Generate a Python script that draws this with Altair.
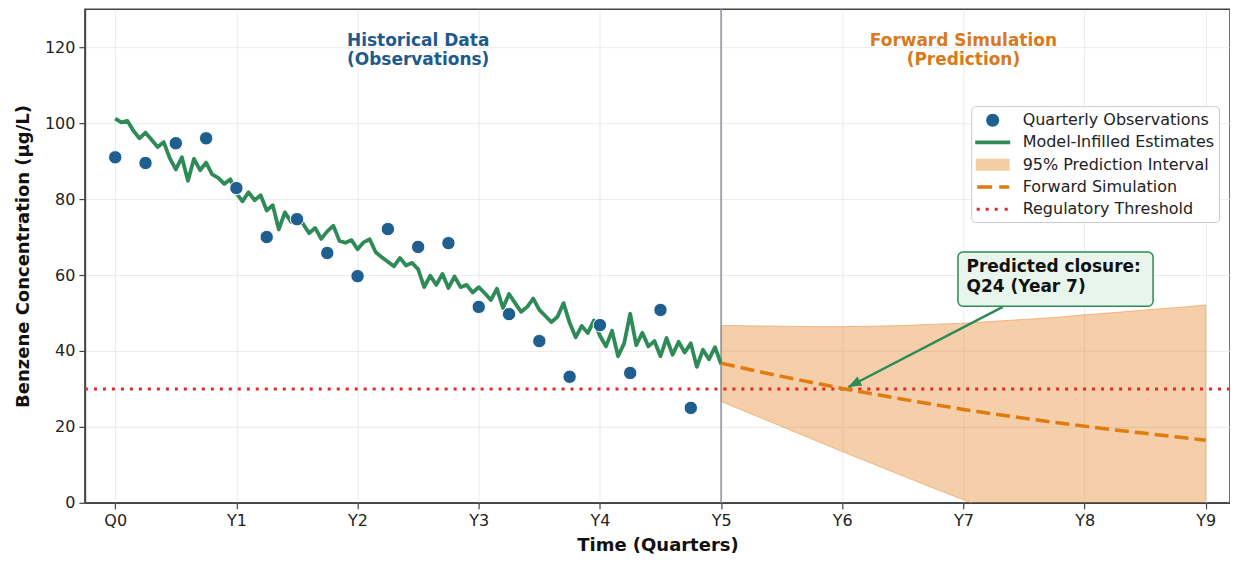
import altair as alt
import pandas as pd

# ---------------- data ----------------
obs_quarters = list(range(20))
obs_values = [91.0, 89.5, 94.7, 96.0, 82.9, 70.0, 74.7, 65.8, 59.7, 72.1,
              67.4, 68.4, 51.6, 49.7, 42.6, 33.2, 46.8, 34.2, 50.8, 25.0]

infill_step = 0.2
infill_values = [
    101.2, 100.2, 100.6, 98.0, 96.0,
    97.5, 95.6, 93.7, 95.0, 90.8,
    87.8, 91.0, 84.8, 90.6, 87.6,
    89.6, 86.5, 85.6, 84.0, 85.2,
    81.5, 79.4, 81.8, 79.7, 81.0,
    77.0, 78.4, 72.0, 76.5, 74.0,
    75.5, 73.5, 71.0, 72.4, 69.5,
    71.5, 73.0, 69.0, 68.5, 69.2,
    66.8, 68.6, 69.4, 66.0, 64.7,
    63.5, 62.3, 64.5, 62.5, 63.2,
    61.5, 56.8, 59.8, 57.4, 60.3,
    56.6, 59.6, 56.8, 57.4, 55.4,
    56.8, 55.2, 53.4, 56.4, 51.3,
    55.0, 52.6, 50.3, 51.6, 53.8,
    50.8, 49.2, 47.6, 49.0, 52.6,
    47.4, 43.6, 46.6, 44.7, 48.0,
    44.0, 41.2, 45.3, 38.6, 42.0,
    49.8, 41.5, 44.8, 41.2, 42.6,
    38.6, 43.4, 39.0, 42.4, 39.6,
    42.0, 35.8, 40.3, 37.8, 41.0,
    36.5,
]
infill_quarters = [round(i * infill_step, 2) for i in range(len(infill_values))]

fwd_quarters = list(range(20, 37))
fwd_values = [36.8, 35.0, 33.3, 31.7, 30.1, 28.7, 27.3, 25.9, 24.6, 23.4,
              22.3, 21.2, 20.2, 19.2, 18.3, 17.4, 16.5]
band_upper = [46.7, 46.6, 46.5, 46.4, 46.4, 46.5, 46.7, 47.0, 47.3, 47.8,
              48.3, 48.8, 49.5, 50.1, 50.8, 51.4, 52.1]
band_lower = [26.7, 23.4, 20.1, 16.8, 13.5, 10.3, 7.1, 3.9, 0.8, -2.2,
              -5.2, -8.2, -11.1, -14.0, -16.8, -19.6, -22.4]

threshold = [30]
split_quarter = [20]

tick_quarters = [0, 4, 8, 12, 16, 20, 24, 28, 32, 36]
tick_labels = ["Q0", "Y1", "Y2", "Y3", "Y4", "Y5", "Y6", "Y7", "Y8", "Y9"]
y_ticks = [0, 20, 40, 60, 80, 100, 120]

legend_labels = ["Quarterly Observations", "Model-Infilled Estimates",
                 "95% Prediction Interval", "Forward Simulation",
                 "Regulatory Threshold"]

section_text = ["Historical Data\n(Observations)", "Forward Simulation\n(Prediction)"]
section_q = [10.0, 28.0]
section_v = [123.7, 123.7]

note_text = ["Predicted closure:\nQ24 (Year 7)"]
note_q = [28.1]
note_v = [64.3]
box_q = [27.82, 34.26]
box_v = [51.8, 66.05]
arrow_q = [29.3, 24.2]
arrow_v = [51.6, 30.5]

# ---------------- styles ----------------
BLUE = "#1f5f8f"
BLUE_TXT = "#1e5a8c"
GREEN = "#2e8b57"
ORANGE = "#e07b10"
ORANGE_TXT = "#d9791c"
BAND_SOLID = "#f3cda4"
RED = "#e3262b"
FONT = "DejaVu Sans"

legend_colors = [BLUE, GREEN, BAND_SOLID, ORANGE, RED]
legend_shapes = [
    "M-0.65,0A0.65,0.65,0,1,1,0.65,0A0.65,0.65,0,1,1,-0.65,0Z",
    "M-1.75,-0.18H1.75V0.18H-1.75Z",
    "M-1.7,-0.6H1.7V0.6H-1.7Z",
    "M-1.55,-0.18H-0.05V0.18H-1.55Z M0.65,-0.18H1.65V0.18H0.65Z",
    "M-1.6,-0.15H-1.3V0.15H-1.6Z M-0.7,-0.15H-0.4V0.15H-0.7Z M0.2,-0.15H0.5V0.15H0.2Z M1.2,-0.15H1.5V0.15H1.2Z",
]

obs_df = pd.DataFrame({"q": obs_quarters, "v": obs_values})
infill_df = pd.DataFrame({"q": infill_quarters, "v": infill_values})
fwd_df = pd.DataFrame({"q": fwd_quarters, "v": fwd_values,
                       "lo": band_lower, "hi": band_upper})
thr_df = pd.DataFrame({"v": threshold})
split_df = pd.DataFrame({"q": split_quarter})
section_df = pd.DataFrame({"q": section_q, "v": section_v, "label": section_text,
                           "c": [BLUE_TXT, ORANGE_TXT]})
note_df = pd.DataFrame({"q": note_q, "v": note_v, "label": note_text})
box_df = pd.DataFrame({"q": [box_q[0]], "q2": [box_q[1]], "v": [box_v[0]], "v2": [box_v[1]]})
arrow_df = pd.DataFrame({"q": arrow_q, "v": arrow_v, "o": [0, 1]})
head_df = pd.DataFrame({"q": [arrow_q[1]], "v": [arrow_v[1]]})
legend_df = pd.DataFrame({"series": legend_labels})

label_expr = ""
for tq, tl in zip(tick_quarters, tick_labels):
    label_expr += f"datum.value == {tq} ? '{tl}' : "
label_expr += "''"

x_scale = alt.Scale(domain=[-1, 36.8], nice=False, zero=False)
y_scale = alt.Scale(domain=[0, 130], nice=False, zero=False)
x_axis = alt.Axis(values=tick_quarters, labelExpr=label_expr, title="Time (Quarters)",
                  titlePadding=8)
y_axis = alt.Axis(values=y_ticks, title="Benzene Concentration (µg/L)", titlePadding=12)


def X(field="q"):
    return alt.X(f"{field}:Q", scale=x_scale, axis=x_axis)


def Y(field="v"):
    return alt.Y(f"{field}:Q", scale=y_scale, axis=y_axis)


band = alt.Chart(fwd_df).mark_area(
    fill=ORANGE, fillOpacity=0.36, stroke="#e9a25e", strokeWidth=1, strokeOpacity=0.7, clip=True
).encode(x=X(), y=Y("lo"), y2="hi:Q")

split = alt.Chart(split_df).mark_rule(color="#8e8fa0", strokeWidth=1.5).encode(x=X())

thr = alt.Chart(thr_df).mark_rule(color=RED, strokeWidth=3, strokeDash=[3, 6]).encode(y=Y())

infill = alt.Chart(infill_df).mark_line(
    color=GREEN, strokeWidth=3.8, strokeJoin="round"
).encode(x=X(), y=Y())

fwd = alt.Chart(fwd_df).mark_line(
    color=ORANGE, strokeWidth=3.5, strokeDash=[14, 6]
).encode(x=X(), y=Y())

obs = alt.Chart(obs_df).mark_circle(
    color=BLUE, size=180, opacity=1, stroke="white", strokeWidth=1
).encode(x=X(), y=Y())

section = alt.Chart(section_df).mark_text(
    lineBreak="\n", font=FONT, fontSize=17, fontWeight="bold", align="center",
    baseline="top", lineHeight=19
).encode(x=X(), y=Y(), text="label:N", color=alt.Color("c:N", scale=None))

box = alt.Chart(box_df).mark_rect(
    fill="#e8f5ec", stroke=GREEN, strokeWidth=1.5, cornerRadius=5
).encode(x=X(), x2="q2:Q", y=Y(), y2="v2:Q")

note = alt.Chart(note_df).mark_text(
    lineBreak="\n", font=FONT, fontSize=17, fontWeight="bold", align="left",
    baseline="top", lineHeight=20, color="#111"
).encode(x=X(), y=Y(), text="label:N")

arrow = alt.Chart(arrow_df).mark_line(color=GREEN, strokeWidth=2.5).encode(
    x=X(), y=Y(), order="o:Q")

head = alt.Chart(head_df).mark_point(
    shape="M0,0L-0.55,1.4L0.55,1.4Z", angle=242, size=346, filled=True,
    color=GREEN, opacity=1
).encode(x=X(), y=Y())

leg = alt.Legend(title=None, orient="none", legendX=887, legendY=97, padding=4,
                 rowPadding=4.3, symbolSize=400, symbolOffset=7.5, labelOffset=20,
                 labelFontSize=16, labelFont=FONT, labelColor="#222", labelLimit=400,
                 strokeColor="#cccccc", fillColor="white", cornerRadius=4,
                 symbolStrokeWidth=0, symbolOpacity=1)

legend_layer = alt.Chart(legend_df).mark_point(filled=True, opacity=1, clip=True).encode(
    x=alt.value(-500), y=alt.value(-500),
    color=alt.Color("series:N", scale=alt.Scale(domain=legend_labels, range=legend_colors), legend=leg),
    shape=alt.Shape("series:N", scale=alt.Scale(domain=legend_labels, range=legend_shapes), legend=leg),
)

chart = alt.layer(
    band, split, thr, infill, fwd, obs, section, arrow, head, box, note, legend_layer
).properties(
    width=1146, height=494,
    padding={"left": 77, "top": 1, "right": 0, "bottom": 56},
    autosize=alt.AutoSizeParams(type="none"),
).configure_view(
    stroke="#444", strokeWidth=1.5
).configure_axis(
    labelFont=FONT, labelFontSize=16, labelColor="#222",
    titleFont=FONT, titleFontSize=18, titleFontWeight="bold", titleColor="#111",
    gridColor="#e6e6e6", gridWidth=0.8, domainColor="#444", domainWidth=1.5,
    tickColor="#444", tickSize=6, tickWidth=1.2, labelPadding=4
)

chart.save("out.html", embed_options={"renderer": "svg", "actions": False})
